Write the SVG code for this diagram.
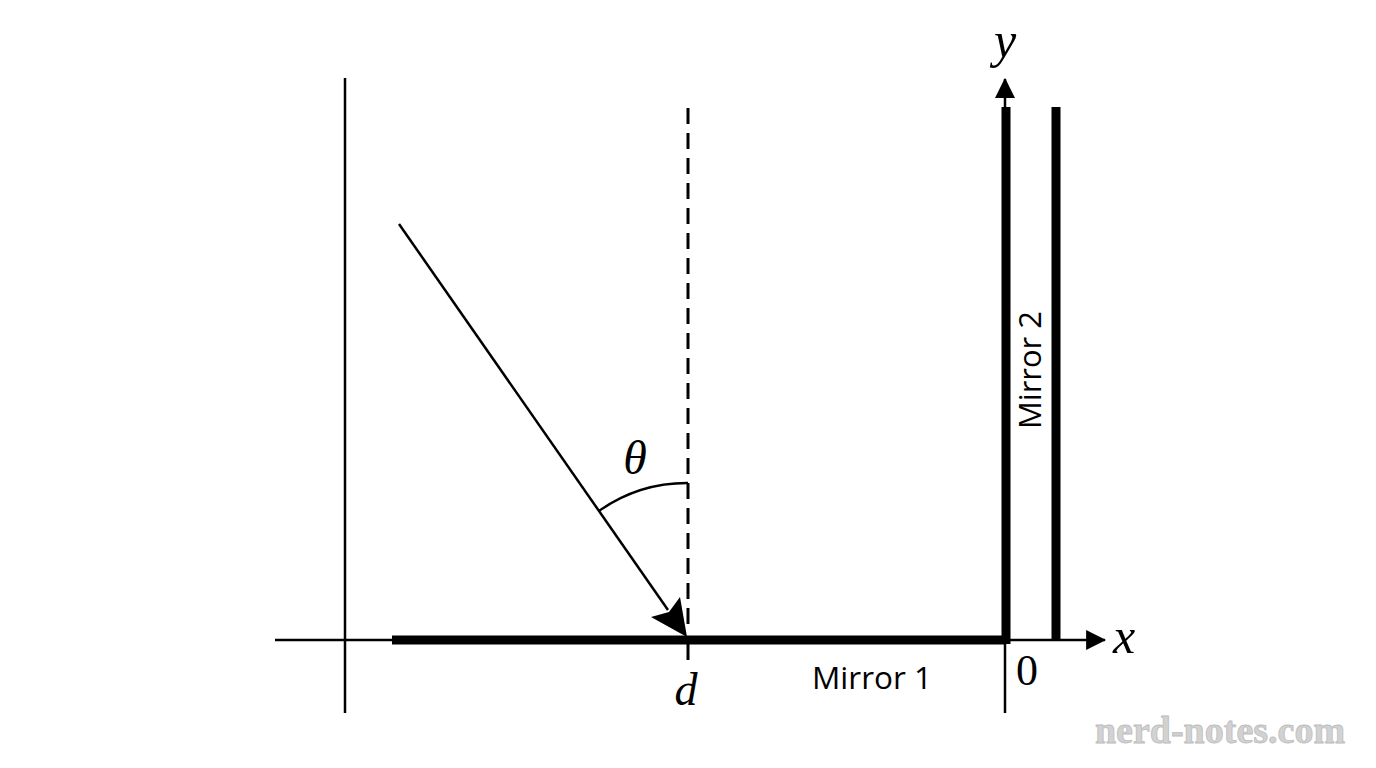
<svg xmlns="http://www.w3.org/2000/svg" width="1376" height="768" viewBox="0 0 1376 768">
  <style>
    .thin { stroke: #000; stroke-width: 2.5; fill: none; }
    .thick { stroke: #000; stroke-width: 9; fill: none; }
    .math { font-family: "Liberation Serif", "DejaVu Serif", serif; font-style: italic; fill: #000; }
    .num { font-family: "Liberation Serif", "DejaVu Serif", serif; fill: #000; }
    .lbl { font-family: "Open Sans", "Liberation Sans", sans-serif; fill: #000; }
    .wm { font-family: "Liberation Serif", "DejaVu Serif", serif; font-weight: bold; fill: #d2d2d2; stroke: #bdbdbd; stroke-width: 0.8; }
  </style>
  <defs>
    <marker id="axisHead" markerUnits="userSpaceOnUse" markerWidth="20" markerHeight="20" viewBox="0 0 18 18" refX="17" refY="9" orient="auto">
      <path d="M0,0 L18,9 L0,18 Z" fill="#000"/>
    </marker>
  </defs>
  <rect width="1376" height="768" fill="#fff"/>

  <g id="axes">
    <line class="thin" x1="345" y1="78" x2="345" y2="713"/>
    <line class="thin" x1="275" y1="640" x2="1105" y2="640" marker-end="url(#axisHead)"/>
    <line class="thin" x1="1005" y1="713" x2="1005" y2="79" marker-end="url(#axisHead)"/>
    <text class="math" x="1005" y="57" font-size="50" text-anchor="middle">y</text>
    <text class="math" x="1124" y="653" font-size="50" text-anchor="middle">x</text>
    <text class="num" x="1027" y="685" font-size="44" text-anchor="middle">0</text>
  </g>

  <g id="mirror1">
    <line class="thick" x1="392" y1="640" x2="1006" y2="640"/>
    <text class="lbl" x="872" y="689" font-size="31.5" text-anchor="middle">Mirror 1</text>
  </g>

  <g id="mirror2">
    <line class="thick" x1="1006" y1="107" x2="1006" y2="644"/>
    <line class="thick" x1="1056" y1="107" x2="1056" y2="640"/>
    <text class="lbl" font-size="31" text-anchor="middle" transform="translate(1041,370) rotate(-90)">Mirror 2</text>
  </g>

  <g id="normal">
    <line x1="688" y1="108" x2="688" y2="630" stroke="#000" stroke-width="3" stroke-dasharray="16,9"/>
    <line x1="688" y1="636" x2="688" y2="660" stroke="#000" stroke-width="3"/>
    <text class="math" x="686" y="705" font-size="46" text-anchor="middle">d</text>
  </g>

  <g id="connectors">
    <line class="thin" x1="399" y1="224" x2="668" y2="610"/>
    <polygon points="687,637 651,617 669,612 680,597" fill="#000"/>
    <path class="thin" d="M599.3,510.7 A153,153 0 0 1 688,483"/>
    <text class="math" x="635" y="474" font-size="48" text-anchor="middle">θ</text>
  </g>

  <text class="wm" x="1220" y="743" font-size="38" text-anchor="middle">nerd-notes.com</text>
</svg>
